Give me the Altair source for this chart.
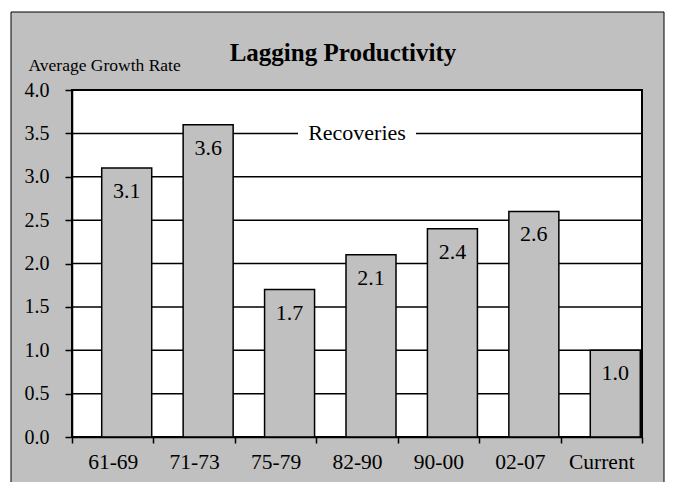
import altair as alt
import pandas as pd

categories = ["61-69", "71-73", "75-79", "82-90", "90-00", "02-07", "Current"]
values = [3.1, 3.6, 1.7, 2.1, 2.4, 2.6, 1.0]
grid_values = [0.5, 1.0, 1.5, 2.0, 2.5, 3.0, 3.5]
y_ticks = [0.0, 0.5, 1.0, 1.5, 2.0, 2.5, 3.0, 3.5, 4.0]
title_text = "Lagging Productivity"
y_title = "Average Growth Rate"
note_text = "Recoveries"
note_category = "82-90"
note_value = 3.5

W, H = 570, 347
FONT = "Liberation Serif"
GRAY = "#c0c0c0"

df = pd.DataFrame({"period": categories, "rate": values})
df["label"] = [f"{v:.1f}" for v in values]

xscale = alt.Scale(domain=categories, paddingInner=0, paddingOuter=0)
yscale = alt.Scale(domain=[0, 4], nice=False)

x_enc = alt.X("period:N", scale=xscale, sort=categories,
              axis=alt.Axis(title=None, tickBand="extent", labelAngle=0,
                            labelAlign="center", labelBaseline="top",
                            labelFont=FONT, labelFontSize=21.5, labelColor="black",
                            tickColor="black", tickSize=6, tickWidth=1.5,
                            domainColor="black", domainWidth=1.5,
                            labelPadding=8, zindex=1))
y_enc = alt.Y("rate:Q", scale=yscale,
              axis=alt.Axis(values=y_ticks, format=".1f", grid=False,
                            title=y_title, titleAngle=0, titleAlign="left",
                            titleBaseline="alphabetic", titleX=-44, titleY=-20,
                            titleFont=FONT, titleFontSize=17.5, titleFontWeight="normal",
                            titleColor="black",
                            labelFont=FONT, labelFontSize=20, labelColor="black",
                            tickColor="black", tickSize=7, tickWidth=1.5,
                            domainColor="black", domainWidth=1.5,
                            labelPadding=16, zindex=1))

one = pd.DataFrame({"t": [title_text]})

frame = alt.Chart(one).mark_rect(fill=GRAY, stroke="black", strokeWidth=1).encode(
    x=alt.value(-61), x2=alt.value(592), y=alt.value(-78), y2=alt.value(420))

plotbg = alt.Chart(one).mark_rect(fill="white", stroke="black", strokeWidth=2).encode(
    x=alt.value(0), x2=alt.value(W), y=alt.value(0), y2=alt.value(H))

grid = alt.Chart(pd.DataFrame({"g": grid_values})).mark_rule(
    color="black", strokeWidth=1.5).encode(y=alt.Y("g:Q", scale=yscale))

note_df = pd.DataFrame({"period": [note_category], "rate": [note_value], "txt": [note_text]})
gap = alt.Chart(note_df).mark_tick(color="white", size=118, thickness=6, opacity=1).encode(
    x=alt.X("period:N", scale=xscale, sort=categories), y=alt.Y("rate:Q", scale=yscale))
note = alt.Chart(note_df).mark_text(font=FONT, fontSize=22, color="black",
                                    baseline="middle", align="center").encode(
    x=alt.X("period:N", scale=xscale, sort=categories),
    y=alt.Y("rate:Q", scale=yscale), text="txt:N")

bars = alt.Chart(df).mark_bar(width=50, xOffset=14, fill=GRAY, stroke="black",
                              strokeWidth=1.5).encode(x=x_enc, y=y_enc)

labels = alt.Chart(df).mark_text(font=FONT, fontSize=22, color="black", xOffset=14,
                                 dy=30, baseline="alphabetic", align="center").encode(
    x=alt.X("period:N", scale=xscale, sort=categories),
    y=alt.Y("rate:Q", scale=yscale), text="label:N")

title = alt.Chart(one).mark_text(font=FONT, fontSize=25, fontWeight="bold", color="black",
                                 align="center", baseline="alphabetic").encode(
    x=alt.value(271), y=alt.value(-29), text="t:N")

chart = alt.layer(frame, plotbg, grid, gap, note, bars, labels, title).properties(
    width=W, height=H,
    autosize=alt.AutoSizeParams(type="none"),
    padding={"left": 64, "top": 82, "right": 24, "bottom": 45},
).configure_view(stroke=None).configure(background="white")

chart.save("out.html", embed_options={"renderer": "svg", "actions": False})
